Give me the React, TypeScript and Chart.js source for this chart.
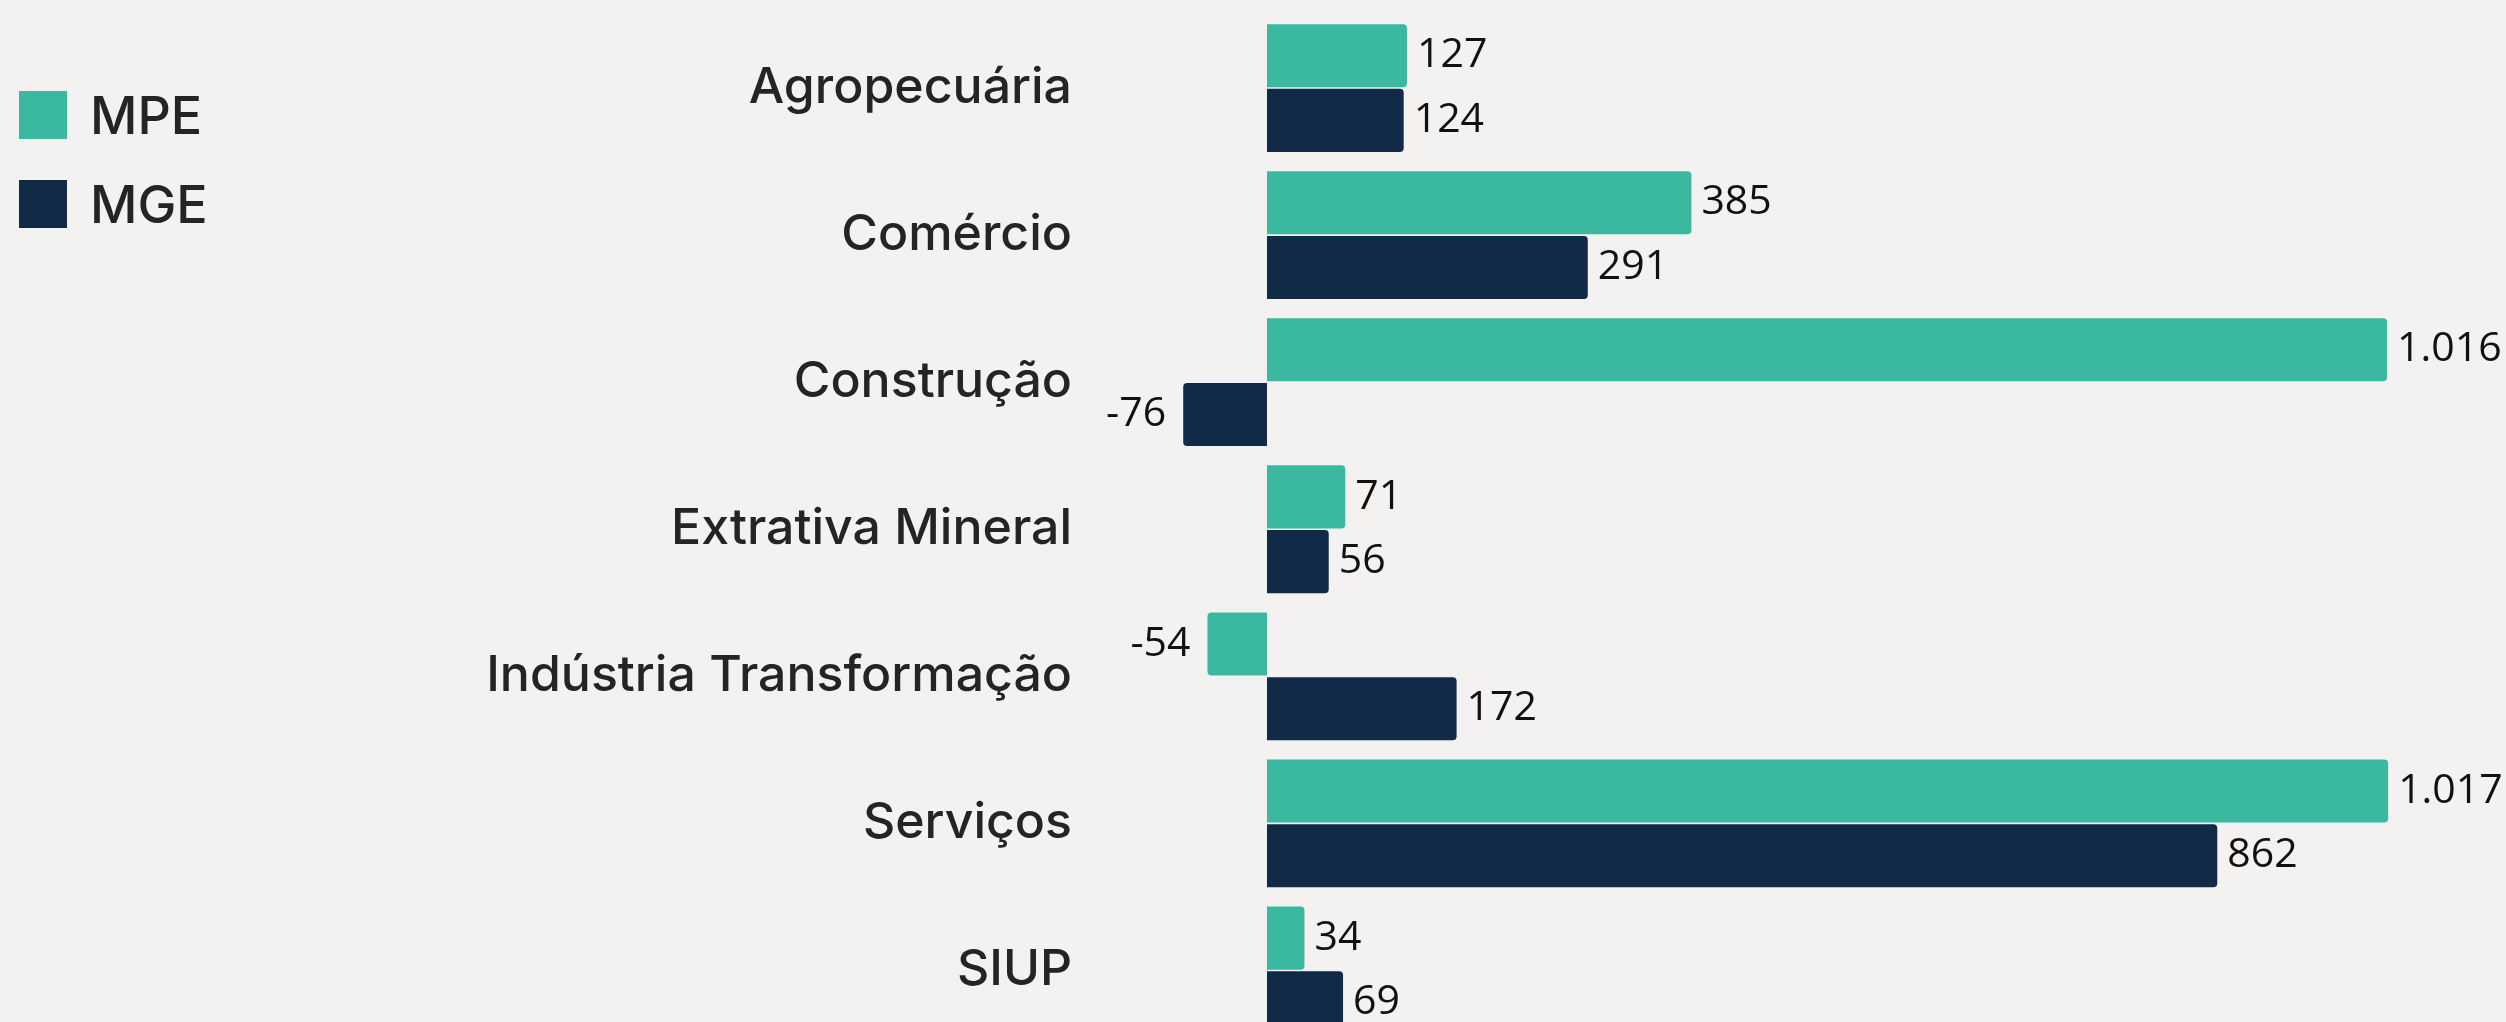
import React, { useEffect, useRef } from "react";
import { Chart, registerables } from "chart.js";

Chart.register(...registerables);

const categories = [
  "Agropecuária",
  "Comércio",
  "Construção",
  "Extrativa Mineral",
  "Indústria Transformação",
  "Serviços",
  "SIUP",
];
const mpeValues = [127, 385, 1016, 71, -54, 1017, 34];
const mgeValues = [124, 291, -76, 56, 172, 862, 69];
const seriesNames = ["MPE", "MGE"];
const seriesColors = ["#3ab9a0", "#102a47"];

const BG = "#f3f2f0";

function fmt(v: number): string {
  const s = Math.abs(v).toString();
  const parts: string[] = [];
  for (let i = s.length; i > 0; i -= 3) parts.unshift(s.slice(Math.max(0, i - 3), i));
  return (v < 0 ? "-" : "") + parts.join(".");
}

const valueLabels = {
  id: "valueLabels",
  afterDatasetsDraw(chart: any) {
    const ctx = chart.ctx;
    ctx.save();
    ctx.font = "41px 'Open Sans'";
    ctx.fillStyle = "#111111";
    ctx.textBaseline = "middle";
    chart.data.datasets.forEach((ds: any, di: number) => {
      const meta = chart.getDatasetMeta(di);
      meta.data.forEach((bar: any, i: number) => {
        const v = ds.data[i] as number;
        if (v >= 0) {
          ctx.textAlign = "left";
          ctx.fillText(fmt(v), bar.x + 10, bar.y);
        } else {
          ctx.textAlign = "right";
          ctx.fillText(fmt(v), bar.x - 17, bar.y);
        }
      });
    });
    ctx.restore();
  },
};

const legendPlugin = {
  id: "customLegend",
  afterDraw(chart: any) {
    const ctx = chart.ctx;
    ctx.save();
    const ys = [115, 204];
    seriesNames.forEach((name, i) => {
      ctx.fillStyle = seriesColors[i];
      ctx.fillRect(19, ys[i] - 24, 48, 48);
      ctx.fillStyle = "#252423";
      ctx.font = "500 52px Inter";
      ctx.textAlign = "left";
      ctx.textBaseline = "middle";
      ctx.fillText(name, 90, ys[i] + 3);
    });
    ctx.restore();
  },
};

export default function App() {
  const ref = useRef<HTMLCanvasElement | null>(null);

  useEffect(() => {
    if (!ref.current) return;
    const chart = new Chart(ref.current, {
      type: "bar",
      data: {
        labels: categories,
        datasets: [
          {
            label: seriesNames[0],
            data: mpeValues,
            backgroundColor: seriesColors[0],
            borderRadius: 4,
            barPercentage: 0.975,
            categoryPercentage: 0.88,
          },
          {
            label: seriesNames[1],
            data: mgeValues,
            backgroundColor: seriesColors[1],
            borderRadius: 4,
            barPercentage: 0.975,
            categoryPercentage: 0.88,
          },
        ],
      },
      options: {
        indexAxis: "y",
        responsive: false,
        animation: false,
        layout: { padding: { top: 14.5, bottom: 0, left: 0, right: 4.3 } },
        plugins: {
          legend: { display: false },
          tooltip: { enabled: false },
        },
        scales: {
          x: {
            type: "linear",
            min: -160,
            max: 1120,
            display: false,
            grid: { display: false },
          },
          y: {
            grid: { display: false, drawTicks: false },
            border: { display: false },
            ticks: {
              autoSkip: false,
              padding: 18.6,
              color: "#252423",
              font: { family: "Inter", size: 50, weight: "500" },
            },
            afterFit(scale: any) {
              scale.width = 1090.6;
              scale.paddingTop = 0;
              scale.paddingBottom = 0;
            },
          },
        },
      },
      plugins: [valueLabels, legendPlugin],
    } as any);
    return () => chart.destroy();
  }, []);

  return (
    <div
      style={{
        position: "fixed",
        left: 0,
        top: 0,
        width: 2506,
        height: 1022,
        overflow: "hidden",
        background: BG,
      }}
    >
      <canvas ref={ref} width={2506} height={1044} style={{ display: "block", width: 2506, height: 1044 }} />
    </div>
  );
}
